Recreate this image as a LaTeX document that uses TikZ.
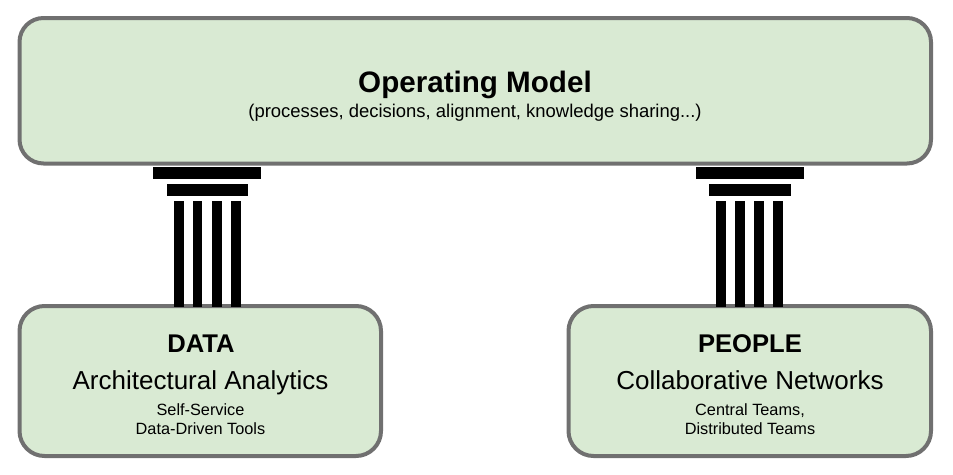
\documentclass[tikz,border=0pt]{standalone}
\usepackage{fontspec}
\setmainfont{Liberation Sans}
\definecolor{boxfill}{HTML}{D9EAD3}
\definecolor{boxline}{HTML}{707070}
\tikzset{
  panel/.style={fill=boxfill,draw=boxline,line width=4pt,rounded corners=#1},
  pillarpart/.style={fill=black,draw=none},
  label/.style={anchor=base,inner sep=0pt,outer sep=0pt,text=black},
  titlefont/.style={label,font=\fontsize{29.6}{34}\selectfont\bfseries},
  subfont/.style={label,font=\fontsize{18.45}{22}\selectfont},
  headfont/.style={label,font=\fontsize{25.6}{30}\selectfont\bfseries},
  midfont/.style={label,font=\fontsize{26}{30}\selectfont},
  smallfont/.style={label,font=\fontsize{16.3}{19}\selectfont}
}
\begin{document}
\begin{tikzpicture}[x=1pt,y=-1pt]
\useasboundingbox (0,0) rectangle (953,474);
% top panel
\draw[panel=24pt] (19.5,18) rectangle (931,163.5);
% pillars
\foreach \ox/\cols in {0/{174,192.8,212,231},542.6/{173.6,192.6,211.8,230.8}}{
  \fill[pillarpart] (153.4+\ox,167) rectangle (261.4+\ox,178.7);
  \fill[pillarpart] (166.6+\ox,184) rectangle (248+\ox,195.7);
  \foreach \c in \cols {
    \fill[pillarpart] (\c+\ox,201) rectangle (\c+9.6+\ox,308);
  }
}
% bottom panels
\draw[panel=25pt] (19.5,306) rectangle (381,456);
\draw[panel=25pt] (568.5,306) rectangle (931,456);
% column feet over the panel outline
\foreach \c in {174,192.8,212,231,716.2,735.2,754.4,773.4}{
  \fill[pillarpart] (\c,300) rectangle (\c+9.6,307);
}
% text
\node[titlefont] (title) at (475,92) {Operating Model};
\node[subfont] (subtitle) at (475,117) {(processes, decisions, alignment, knowledge sharing...)};
\node[headfont] (datahead) at (201,352.5) {DATA};
\node[midfont] (datamid) at (200.5,389) {Architectural Analytics};
\node[smallfont] (dataone) at (200.5,415) {Self-Service};
\node[smallfont] (datatwo) at (200.5,434) {Data-Driven Tools};
\node[headfont] (peoplehead) at (750,352.5) {PEOPLE};
\node[midfont] (peoplemid) at (750,389) {Collaborative Networks};
\node[smallfont] (peopleone) at (750,415) {Central Teams,};
\node[smallfont] (peopletwo) at (750,434) {Distributed Teams};
\end{tikzpicture}
\end{document}
